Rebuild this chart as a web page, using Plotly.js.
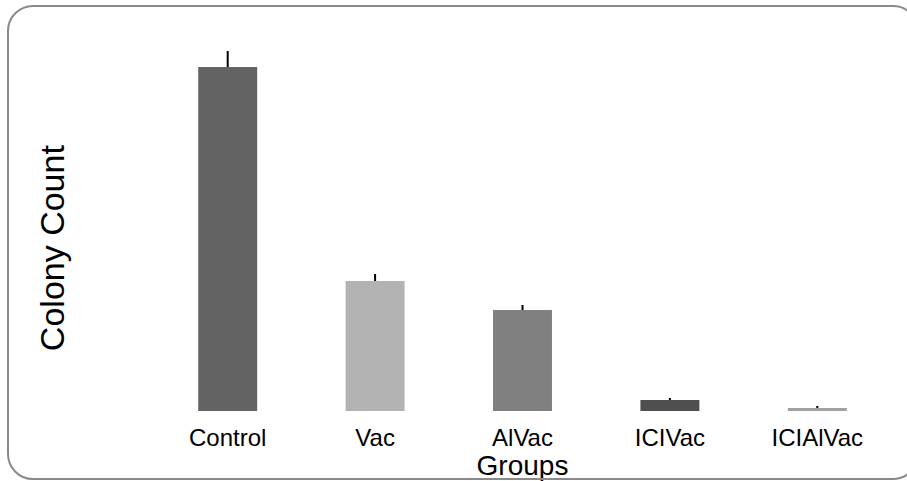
<!DOCTYPE html>
<html>
<head>
<meta charset="utf-8">
<script src="https://cdn.plot.ly/plotly-3.0.1.min.js"></script>
<style>
html,body{margin:0;padding:0;background:#fff;overflow:hidden;}
#wrap{position:relative;width:907px;height:481px;}
#chart{width:907px;height:481px;}
#frame{position:absolute;left:7px;top:5px;width:912px;height:475px;border:2px solid #8a8a8a;border-radius:26px;box-sizing:border-box;pointer-events:none;}
</style>
</head>
<body>
<div id="wrap"><div id="chart"></div><div id="frame"></div></div>
<script>
const groups = ["Control", "Vac", "AlVac", "ICIVac", "ICIAlVac"];
const colonyCount = [172, 65, 50.5, 5.5, 1.5];
const errorUpper = [8, 3.5, 2.5, 1, 1];
const errorLower = [0, 0, 0, 0, 0];
const barColors = ["#636363", "#b3b3b3", "#808080", "#4f4f4f", "#a0a0a0"];
const xTitle = "Groups";
const yTitle = "Colony Count";

const trace = {
  type: "bar",
  x: groups,
  y: colonyCount,
  marker: {color: barColors, line: {width: 0}},
  error_y: {type: "data", symmetric: false, array: errorUpper, arrayminus: errorLower,
            color: "#000", thickness: 2, width: 0},
  hoverinfo: "x+y"
};

const layout = {
  width: 907, height: 481,
  margin: {l: 154, r: 16, t: 40, b: 70},
  paper_bgcolor: "#fff", plot_bgcolor: "#fff",
  font: {family: "Liberation Sans, Arial, sans-serif", color: "#000"},
  bargap: 0.6,
  showlegend: false,
  xaxis: {
    showline: false, showgrid: false, zeroline: false, ticks: "",
    tickfont: {size: 24, color: "#000"},
    ticklabelstandoff: 10,
    title: {text: xTitle, font: {size: 28, color: "#000"}, standoff: 2}
  },
  yaxis: {
    range: [0, 185.5], showline: false, showgrid: false, zeroline: false,
    showticklabels: false, ticks: ""
  },
  annotations: [{
    text: yTitle, textangle: -90, showarrow: false,
    xref: "paper", yref: "paper", x: 0, y: 0.439,
    xanchor: "center", yanchor: "middle", xshift: -102,
    font: {size: 34, color: "#000"}
  }]
};

Plotly.newPlot("chart", [trace], layout, {displayModeBar: false, staticPlot: true});
</script>
</body>
</html>
